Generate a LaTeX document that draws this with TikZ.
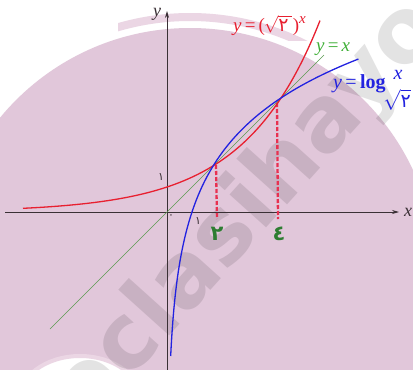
\documentclass[tikz,border=0pt]{standalone}
\usepackage{fontspec}
\setmainfont{Liberation Serif}
\newfontfamily\arf{DejaVu Sans}
\newfontfamily\wmf{DejaVu Sans}
\usetikzlibrary{arrows.meta}
\definecolor{bgpink}{HTML}{E1C7DA}
\definecolor{palepink}{HTML}{EBD6E4}
\definecolor{axisc}{HTML}{3A3035}
\definecolor{redc}{HTML}{E82030}
\definecolor{bluec}{HTML}{2222E0}
\definecolor{greenl}{HTML}{5A9A50}
\definecolor{greent}{HTML}{40B038}
\definecolor{dkgreen}{HTML}{2E7D32}
\definecolor{dashc}{HTML}{E83050}
\tikzset{
  axisline/.style={draw=axisc, line width=0.7pt, -{Stealth[length=7pt,width=4pt]}},
  curvered/.style={draw=redc, line width=1.3pt},
  curveblue/.style={draw=bluec, line width=1.3pt},
  idline/.style={draw=greenl, line width=0.5pt},
  dropline/.style={draw=dashc, line width=2.3pt, dash pattern=on 4pt off 2pt},
  axislabel/.style={font=\itshape\fontsize{18}{18}\selectfont, text=axisc, inner sep=0pt},
  smalldigit/.style={font=\arf\fontsize{11}{11}\selectfont, text=axisc, inner sep=0pt},
  bigdigit/.style={font=\arf\bfseries\fontsize{21}{21}\selectfont, text=dkgreen, inner sep=0pt},
}
\begin{document}
\begin{tikzpicture}[x=1pt,y=-1pt]
\useasboundingbox (0,0) rectangle (413,370);
\fill[white] (0,0) rectangle (413,370);
\begin{scope}
  \clip (0,0) rectangle (413,370);
  \fill[bgpink] (190,274) circle[radius=246pt];
  \begin{scope}
    \clip (118,0) rectangle (335,40);
    \draw[palepink, line width=8pt] (190,274) circle[radius=257pt];
  \end{scope}
  \fill[white, draw=palepink, line width=4pt] (80,402) ellipse[x radius=62pt, y radius=46pt];
  \node[rotate=48, text=black, text opacity=0.11, font=\wmf\bfseries\fontsize{90}{90}\selectfont] (wm) at (248,212) {eclasihayo};
\end{scope}

% key points
\coordinate (O) at (167,212);
\coordinate (xs) at (5,212);
\coordinate (xe) at (399,212);
\coordinate (yb) at (167,370);
\coordinate (ye) at (167,11);
\coordinate (P2) at (216,165);
\coordinate (P4) at (277,103);
\coordinate (F2) at (217,219);
\coordinate (F4) at (278,219);
\coordinate (G1) at (50,329);
\coordinate (G2) at (324,55);

% axes
\draw[axisline] (xs) -- (xe);
\draw[axisline] (yb) -- (ye);
\node[axislabel] (xl) at (408,212) {x};
\node[axislabel] (yl) at (157,14) {y};

% y = x
\draw[idline] (G1) -- (G2);

% dashed drop lines
\draw[dropline] (P2) -- (F2);
\draw[dropline] (P4) -- (F4);

% red exponential
\draw[curvered] plot[domain=23:320, samples=120, variable=\u] ({\u},{212-25*exp(0.0133*(\u-167))});

% blue logarithm (mirror of the red one in y = x)
\draw[curveblue] plot[domain=-144:153, samples=150, variable=\t] ({167+25*exp(0.0133*\t)},{212-\t});

% small tick labels
\node[smalldigit] (one y) at (161,177) {١};
\node[smalldigit] (zero) at (171,217) {٠};
\node[smalldigit] (one x) at (198,221) {١};

% big green digits
\node[bigdigit] (d2) at (217,234) {٢};
\node[bigdigit] (d4) at (279,234) {٤};

% curve labels
\node[anchor=base west, inner sep=0pt, text=redc, font=\fontsize{19}{19}\selectfont] (redlab) at (233,31)
  {\textit{y}\,=\,(\kern-1pt$\sqrt{\hbox{\arf\fontsize{19}{19}\selectfont ٢\,}}$\kern1pt)\raisebox{8pt}{\fontsize{15}{15}\selectfont\textit{x}}};
\node[anchor=base west, inner sep=0pt, text=greent, font=\fontsize{19}{19}\selectfont] (greenlab) at (316,51)
  {\textit{y}\,=\,\textit{x}};
\node[anchor=base west, inner sep=0pt, text=bluec, font=\fontsize{20}{20}\selectfont] (bluelab) at (333,88)
  {\textit{y}\,=\,\textbf{log}};
\node[anchor=base, inner sep=0pt, text=bluec, font=\itshape\fontsize{20}{20}\selectfont] (bluex) at (398,79) {x};
\node[inner sep=0pt, text=bluec, font=\fontsize{20}{20}\selectfont] (bluebase) at (397,100)
  {$\sqrt{\hbox{\arf\fontsize{19}{19}\selectfont ٢}}$};
\end{tikzpicture}
\end{document}
